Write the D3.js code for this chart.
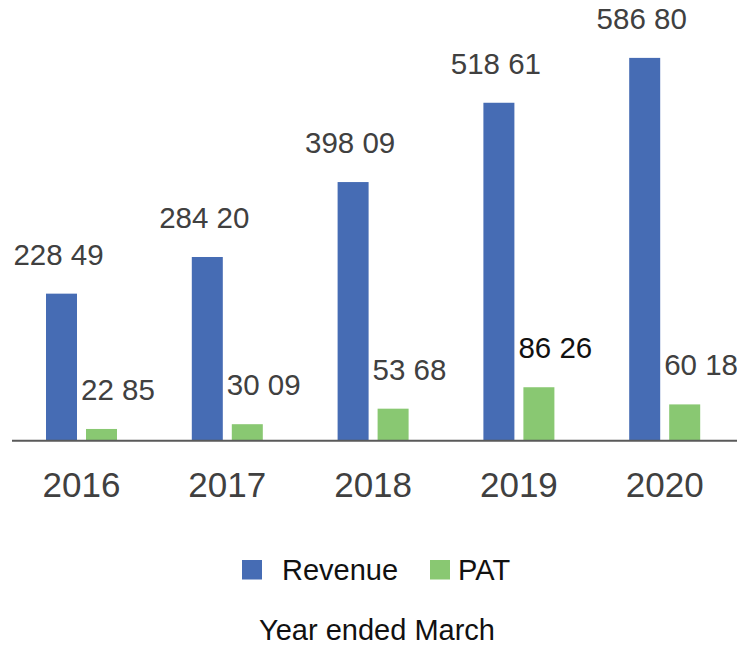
<!DOCTYPE html>
<html>
<head>
<meta charset="utf-8">
<script src="https://cdn.jsdelivr.net/npm/d3@7"></script>
<style>
  html, body { margin: 0; padding: 0; background: #fff; }
  svg { display: block; font-family: "Liberation Sans", Arial, Helvetica, sans-serif; }
</style>
</head>
<body>
<svg id="chart" width="737" height="650"></svg>
<script>
const years = ["2016", "2017", "2018", "2019", "2020"];
const series = ["Revenue", "PAT"];
const revenue = [228.49, 284.20, 398.09, 518.61, 586.80];
const pat = [22.85, 30.09, 53.68, 86.26, 60.18];
const revenueLabels = ["228 49", "284 20", "398 09", "518 61", "586 80"];
const patLabels = ["22 85", "30 09", "53 68", "86 26", "60 18"];
const xTitle = "Year ended March";

const colors = { Revenue: "#466cb4", PAT: "#89c872" };
const values = { Revenue: revenue, PAT: pat };
const labels = { Revenue: revenueLabels, PAT: patLabels };

const svg = d3.select("#chart");
const baseY = 440;

const x0 = d3.scaleBand().domain(years).range([8.6, 737.6]).paddingInner(0).paddingOuter(0);
const x1 = d3.scaleBand().domain(series).range([37.4, 108.4]).paddingInner(0.225).paddingOuter(0);
const y = d3.scaleLinear().domain([0, 600]).range([444, 444 - 0.658 * 600]);

const data = [];
years.forEach((yr, i) => {
  series.forEach(s => data.push({ year: yr, series: s, value: values[s][i], label: labels[s][i] }));
});

// bars
svg.append("g").selectAll("rect").data(data).join("rect")
  .attr("x", d => x0(d.year) + x1(d.series))
  .attr("y", d => y(d.value))
  .attr("width", x1.bandwidth())
  .attr("height", d => baseY - y(d.value))
  .attr("fill", d => colors[d.series]);

// axis line
const xAxis = d3.axisBottom(x0).tickSize(0).tickPadding(0);
const gx = svg.append("g").attr("transform", `translate(0,${baseY + 0.7})`).call(xAxis);
gx.select(".domain").attr("d", "M12,0H737").attr("stroke", "#5a5a5a").attr("stroke-width", 2);
gx.selectAll(".tick text")
  .attr("y", 0)
  .attr("dy", 0)
  .attr("transform", "translate(0,56)")
  .attr("font-size", 35)
  .attr("font-family", "'Liberation Sans', Arial, sans-serif")
  .attr("fill", "#404040");

// value labels
svg.append("g").selectAll("text").data(data).join("text")
  .attr("x", d => d.series === "Revenue"
      ? x0(d.year) + x1(d.series) + x1.bandwidth() / 2 - 3
      : x0(d.year) + x1(d.series) - 5)
  .attr("y", d => y(d.value) - 29)
  .attr("text-anchor", d => d.series === "Revenue" ? "middle" : "start")
  .attr("font-size", 29.5)
  .attr("fill", d => (d.series === "PAT" && d.year === "2019") ? "#111" : "#404040")
  .text(d => d.label);

// legend
const legend = svg.append("g");
const legendX = { Revenue: 242, PAT: 430 };
series.forEach(s => {
  legend.append("rect").attr("x", legendX[s]).attr("y", 560).attr("width", 20).attr("height", 19.5).attr("fill", colors[s]);
  legend.append("text").attr("x", legendX[s] + (s === "Revenue" ? 40 : 28)).attr("y", 579.5)
    .attr("font-size", 29).attr("fill", "#111").text(s);
});

// axis title
svg.append("text").attr("x", 377).attr("y", 640).attr("text-anchor", "middle")
  .attr("font-size", 29).attr("fill", "#111").text(xTitle);
</script>
</body>
</html>
